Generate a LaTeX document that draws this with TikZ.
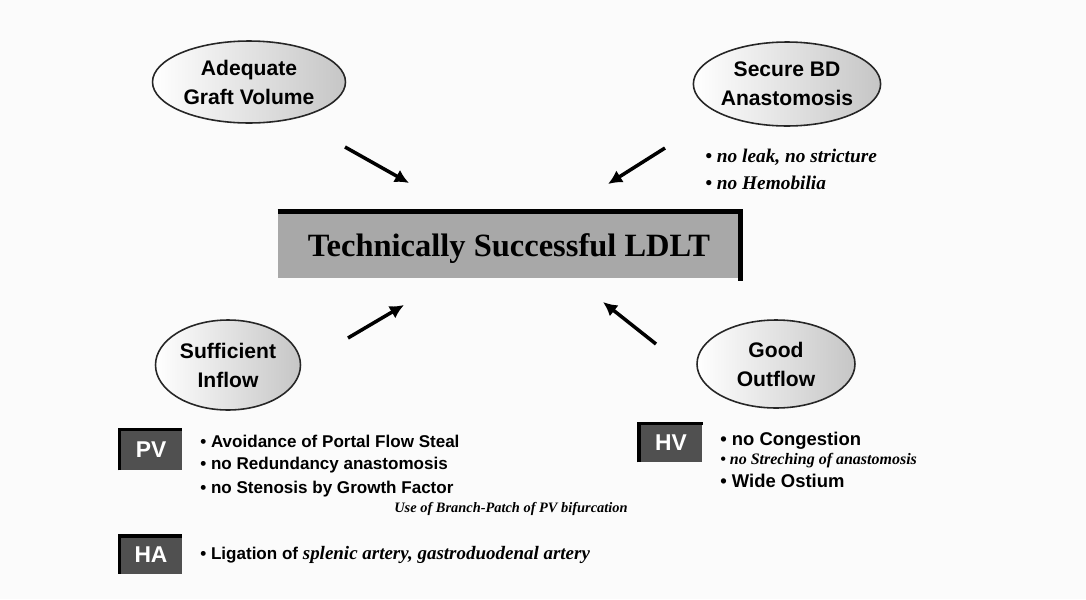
\documentclass[tikz,border=0pt]{standalone}
\usepackage{fontspec}
\setmainfont{Liberation Serif}
\setsansfont{Liberation Sans}
\usetikzlibrary{shapes.geometric,arrows.meta}

\definecolor{paper}{HTML}{FBFBFB}
\definecolor{boxgray}{HTML}{A8A8A8}
\definecolor{tabgray}{HTML}{505050}

\tikzset{
  goal/.style={ellipse, draw=black!85, line width=0.9pt,
    left color=white, right color=gray!45, inner sep=0pt, align=center,
    font=\sffamily\bfseries\fontsize{12}{16.5}\selectfont},
  push/.style={line width=2pt, -{Latex[length=8pt,width=8pt]}},
  tab/.style={fill=tabgray, text=white, inner sep=0pt,
    minimum width=1.24cm, font=\sffamily\bfseries\fontsize{13}{13}\selectfont},
  item/.style={anchor=west, inner sep=0pt,
    font=\sffamily\bfseries\fontsize{9.7}{12}\selectfont},
  note/.style={anchor=west, inner sep=0pt,
    font=\rmfamily\bfseries\itshape\fontsize{11}{13}\selectfont},
}

\begin{document}
\begin{tikzpicture}[x=0.02cm, y=-0.02cm]
  \fill[paper] (0,0) rectangle (1086,599);
  \useasboundingbox (0,0) rectangle (1086,599);

  % the four goals
  \node[goal, minimum width=3.86cm, minimum height=1.64cm] (graft) at (249,82)
    {Adequate\\Graft Volume};
  \node[goal, minimum width=3.7cm, minimum height=1.68cm] (bd) at (787,84)
    {Secure BD\\Anastomosis};
  \node[goal, minimum width=2.9cm, minimum height=1.8cm] (inflow) at (228,365)
    {Sufficient\\Inflow};
  \node[goal, minimum width=3.16cm, minimum height=1.76cm] (outflow) at (776,364)
    {Good\\Outflow};

  \node[note] (leak) at (705,157) {\textbullet\ no leak, no stricture};
  \node[note] (hemo) at (705,183) {\textbullet\ no Hemobilia};

  % centre box
  \node[fill=boxgray, minimum width=9.24cm, minimum height=1.32cm, inner sep=0pt,
    text depth=0pt, font=\rmfamily\bfseries\fontsize{18.5}{20}\selectfont]
    (ldlt) at (509,245) {Technically Successful LDLT};
  \draw[line width=3pt, line join=miter]
    (ldlt.north west) -- (ldlt.north east) -- ([yshift=-1.5pt]ldlt.south east);

  % arrows
  \coordinate (graft-tail) at (345,147);
  \coordinate (graft-head) at (409,183);
  \coordinate (bd-tail) at (665,148);
  \coordinate (bd-head) at (608,184);
  \coordinate (inflow-tail) at (348,338);
  \coordinate (inflow-head) at (404,305);
  \coordinate (outflow-tail) at (656,344);
  \coordinate (outflow-head) at (603,302);
  \draw[push] (graft-tail) -- (graft-head);
  \draw[push] (bd-tail) -- (bd-head);
  \draw[push] (inflow-tail) -- (inflow-head);
  \draw[push] (outflow-tail) -- (outflow-head);

  % inflow details
  \node[tab, minimum height=0.8cm] (pv) at (151,450) {PV};
  \draw[line width=2pt] (pv.south west) -- (pv.north west) -- (pv.north east);
  \node[item] (pv1) at (200,441) {\textbullet\ Avoidance of Portal Flow Steal};
  \node[item] (pv2) at (200,465) {\textbullet\ no Redundancy anastomosis};
  \node[item] (pv3) at (200,489) {\textbullet\ no Stenosis by Growth Factor};
  \node[note, anchor=east, font=\rmfamily\bfseries\itshape\fontsize{8.2}{10}\selectfont]
    (patch) at (628,509) {Use of Branch-Patch of PV bifurcation};

  \node[tab, minimum height=0.74cm] (ha) at (151,555) {HA};
  \draw[line width=2pt] (ha.south west) -- (ha.north west) -- (ha.north east);
  \node[item] (ha1) at (200,555) {\textbullet\ Ligation of
    {\rmfamily\bfseries\itshape\fontsize{10.8}{12}\selectfont splenic artery, gastroduodenal artery}};

  % outflow details
  \node[tab, minimum width=1.26cm, minimum height=0.76cm] (hv) at (671,443) {HV};
  \draw[line width=2pt] (hv.south west) -- (hv.north west) -- (hv.north east);
  \node[item, font=\sffamily\bfseries\fontsize{10.5}{12}\selectfont] (hv1) at (720,441)
    {\textbullet\ no Congestion};
  \node[item, font=\rmfamily\bfseries\itshape\fontsize{9.1}{10}\selectfont] (hv2) at (720,461)
    {\textbullet\ no Streching of anastomosis};
  \node[item, font=\sffamily\bfseries\fontsize{10.5}{12}\selectfont] (hv3) at (720,481)
    {\textbullet\ Wide Ostium};
\end{tikzpicture}
\end{document}
